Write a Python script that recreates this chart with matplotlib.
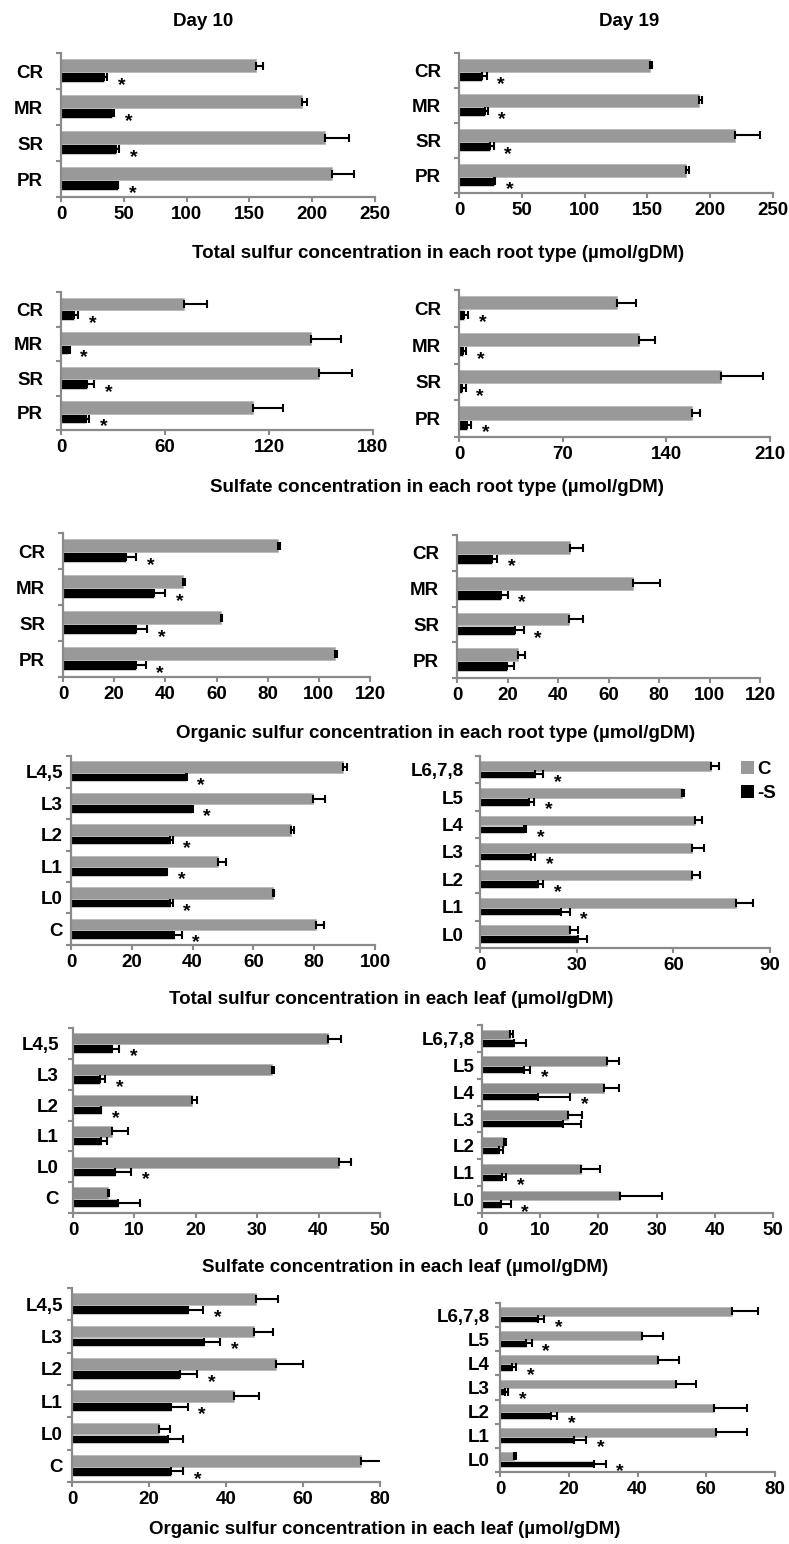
import numpy as np
import matplotlib.pyplot as plt
from matplotlib.patches import Patch

plt.rcParams['font.family'] = ['Liberation Sans', 'DejaVu Sans']
plt.rcParams['font.weight'] = 'bold'

W, H = 789, 1544
GRAY = '#999999'
GRAY_DARK = '#8c8c8c'
AXIS = '#8a8a8a'
FS = 13.5

roots = ['CR', 'MR', 'SR', 'PR']
leaf_d10 = ['L4,5', 'L3', 'L2', 'L1', 'L0', 'C']
leaf_d19 = ['L6,7,8', 'L5', 'L4', 'L3', 'L2', 'L1', 'L0']

# total sulfur, roots
ts_root_d10_c = [155, 191.5, 210, 216]
ts_root_d10_c_err = [5.5, 4, 19, 17]
ts_root_d10_s = [34.5, 41, 44, 45]
ts_root_d10_s_err = [2, 1, 2, 0.5]
ts_root_d10_sig = [1, 1, 1, 1]

ts_root_d19_c = [152, 191, 219.5, 181]
ts_root_d19_c_err = [2, 2.5, 20, 2]
ts_root_d19_s = [18, 20.7, 25, 27.5]
ts_root_d19_s_err = [4, 2, 2.5, 1.5]
ts_root_d19_sig = [1, 1, 1, 1]

# sulfate, roots
so4_root_d10_c = [71, 144, 149, 110.7]
so4_root_d10_c_err = [13.5, 17.5, 18.7, 17.3]
so4_root_d10_s = [7.5, 4.2, 15.2, 14.4]
so4_root_d10_s_err = [2.5, 0.8, 3.8, 2]
so4_root_d10_sig = [1, 1, 1, 1]

so4_root_d19_c = [106.5, 121.8, 176.7, 157.5]
so4_root_d19_c_err = [12.8, 10.5, 28.8, 5.2]
so4_root_d19_s = [3.5, 2.5, 2, 5.2]
so4_root_d19_s_err = [2.5, 2.5, 2.5, 2.7]
so4_root_d19_sig = [1, 1, 1, 1]

# organic sulfur, roots
org_root_d10_c = [83.9, 47, 61.7, 106.3]
org_root_d10_c_err = [0.9, 0.7, 0.6, 0.7]
org_root_d10_s = [24.5, 35.6, 28.7, 28.7]
org_root_d10_s_err = [4.2, 4.2, 4.2, 3.6]
org_root_d10_sig = [1, 1, 1, 1]

org_root_d19_c = [44.8, 69.9, 44.2, 24.1]
org_root_d19_c_err = [5, 10.3, 5.6, 2.9]
org_root_d19_s = [13.8, 17.4, 22.8, 19.8]
org_root_d19_s_err = [2, 2.6, 3.6, 2.9]
org_root_d19_sig = [1, 1, 1, 0]

# total sulfur, leaves
ts_leaf_d10_c = [89.6, 79.7, 72.4, 48.5, 66.3, 80.6]
ts_leaf_d10_c_err = [1.3, 3.8, 0.8, 2.5, 0.6, 2.7]
ts_leaf_d10_s = [37.7, 39.7, 32.6, 31.3, 32.6, 33.9]
ts_leaf_d10_s_err = [0.3, 0.3, 0.8, 0.3, 0.8, 2.5]
ts_leaf_d10_sig = [1, 1, 1, 1, 1, 1]

ts_leaf_d19_c = [71.8, 62.6, 66.6, 65.8, 65.8, 79.6, 27.9]
ts_leaf_d19_c_err = [2.4, 0.6, 2.3, 3.6, 2.6, 5, 2.6]
ts_leaf_d19_s = [17.2, 15.3, 13.5, 15.8, 17.9, 25, 30.5]
ts_leaf_d19_s_err = [2.3, 1.6, 0.8, 1.4, 1.6, 2.8, 2.8]
ts_leaf_d19_sig = [1, 1, 1, 1, 1, 1, 0]

# sulfate, leaves
so4_leaf_d10_c = [41.6, 32.4, 19.3, 6.3, 43.4, 5.7]
so4_leaf_d10_c_err = [2.1, 0.3, 0.9, 2.6, 1.8, 0.2]
so4_leaf_d10_s = [6.4, 4.4, 4.5, 4.5, 6.9, 7.4]
so4_leaf_d10_s_err = [1.1, 0.8, 0.1, 1, 2.6, 3.5]
so4_leaf_d10_sig = [1, 1, 1, 0, 1, 0]

so4_leaf_d19_c = [4.8, 21.5, 20.9, 14.7, 3.8, 17, 23.7]
so4_leaf_d19_c_err = [0.6, 2, 2.6, 2.5, 0.4, 3.3, 7.2]
so4_leaf_d19_s = [5.5, 7.3, 9.7, 13.9, 2.9, 3.5, 3.2]
so4_leaf_d19_s_err = [2, 1, 5.5, 3.1, 0.7, 0.7, 1.7]
so4_leaf_d19_sig = [0, 1, 1, 0, 0, 1, 1]

# organic sulfur, leaves
org_leaf_d10_c = [47.8, 47.4, 52.9, 42.2, 22.6, 75]
org_leaf_d10_c_err = [5.7, 4.8, 7, 6.3, 2.8, 6]
org_leaf_d10_s = [30, 34.3, 28.1, 25.8, 25, 25.8]
org_leaf_d10_s_err = [4.1, 4.2, 4.3, 4.2, 3.8, 3.1]
org_leaf_d10_sig = [1, 1, 1, 1, 0, 1]

org_leaf_d19_c = [67.4, 41.4, 46.1, 51.3, 62.3, 62.8, 4.2]
org_leaf_d19_c_err = [7.7, 6, 6.1, 5.6, 9.5, 9, 0.4]
org_leaf_d19_s = [11.1, 7.6, 3.6, 1.5, 14.7, 21.6, 27.2]
org_leaf_d19_s_err = [1.7, 1.6, 1, 0.8, 2, 3.4, 3.5]
org_leaf_d19_sig = [1, 1, 1, 1, 1, 1, 1]

fig = plt.figure(figsize=(W / 100, H / 100), dpi=100)


def panel(box, cats, c, ce, s, se, sig, xmax, step, lab_pad, gray=GRAY):
    l, t, r, b = box
    ax = fig.add_axes([l / W, 1 - b / H, (r - l) / W, (b - t) / H])
    n = len(cats)
    y = np.arange(n)[::-1]
    yc = y + 0.15
    ys = y - 0.17
    ax.barh(yc, c, height=0.36, color=gray, edgecolor='#b0b0b0', linewidth=0.4, zorder=2)
    ax.barh(ys, s, height=0.27, color='black', edgecolor='white', linewidth=0.4, zorder=2)
    ax.errorbar(c, yc, xerr=[np.zeros(n), ce], fmt='none', ecolor='black',
                elinewidth=1.5, capsize=3.2, capthick=1.5, zorder=3)
    ax.errorbar(s, ys, xerr=[np.zeros(n), se], fmt='none', ecolor='black',
                elinewidth=1.5, capsize=3.2, capthick=1.5, zorder=3)
    for i in range(n):
        if sig[i]:
            ax.annotate('*', xy=(s[i] + se[i], ys[i]), xytext=(10.5, -9),
                        textcoords='offset points', ha='center', va='baseline',
                        fontsize=14, fontweight='bold')
    ax.set_xlim(0, xmax)
    ax.set_ylim(-0.5, n - 0.5)
    ax.set_xticks(np.arange(0, xmax + step / 2, step))
    ax.set_yticks(y)
    ax.set_yticklabels(cats)
    ax.set_yticks(np.arange(n + 1) - 0.5, minor=True)
    ax.tick_params(axis='y', which='major', length=0, pad=lab_pad * 0.72, labelsize=FS)
    ax.tick_params(axis='y', which='minor', length=3.5, width=1.5, color=AXIS, direction='out')
    ax.tick_params(axis='x', length=3.5, width=1.5, color=AXIS, direction='out', pad=3, labelsize=FS)
    for sp in ['top', 'right']:
        ax.spines[sp].set_visible(False)
    for sp in ['left', 'bottom']:
        ax.spines[sp].set_color(AXIS)
        ax.spines[sp].set_linewidth(1.6)
    return ax


panel((61, 53, 375, 197), roots, ts_root_d10_c, ts_root_d10_c_err, ts_root_d10_s,
      ts_root_d10_s_err, ts_root_d10_sig, 250, 50, 18)
panel((459, 53, 773, 193), roots, ts_root_d19_c, ts_root_d19_c_err, ts_root_d19_s,
      ts_root_d19_s_err, ts_root_d19_sig, 250, 50, 18)
panel((61, 292, 373, 430), roots, so4_root_d10_c, so4_root_d10_c_err, so4_root_d10_s,
      so4_root_d10_s_err, so4_root_d10_sig, 180, 60, 18)
panel((459, 290, 770, 437), roots, so4_root_d19_c, so4_root_d19_c_err, so4_root_d19_s,
      so4_root_d19_s_err, so4_root_d19_sig, 210, 70, 18)
panel((63, 533, 370, 677), roots, org_root_d10_c, org_root_d10_c_err, org_root_d10_s,
      org_root_d10_s_err, org_root_d10_sig, 120, 20, 18)
panel((457, 535, 760, 678), roots, org_root_d19_c, org_root_d19_c_err, org_root_d19_s,
      org_root_d19_s_err, org_root_d19_sig, 120, 20, 18)
panel((71, 756, 375, 945), leaf_d10, ts_leaf_d10_c, ts_leaf_d10_c_err, ts_leaf_d10_s,
      ts_leaf_d10_s_err, ts_leaf_d10_sig, 100, 20, 8)
panel((480, 756, 770, 948), leaf_d19, ts_leaf_d19_c, ts_leaf_d19_c_err, ts_leaf_d19_s,
      ts_leaf_d19_s_err, ts_leaf_d19_sig, 90, 30, 16)
panel((73, 1028, 380, 1213), leaf_d10, so4_leaf_d10_c, so4_leaf_d10_c_err, so4_leaf_d10_s,
      so4_leaf_d10_s_err, so4_leaf_d10_sig, 50, 10, 14, gray=GRAY_DARK)
panel((482, 1025, 773, 1213), leaf_d19, so4_leaf_d19_c, so4_leaf_d19_c_err, so4_leaf_d19_s,
      so4_leaf_d19_s_err, so4_leaf_d19_sig, 50, 10, 7, gray=GRAY_DARK)
panel((72, 1288, 380, 1482), leaf_d10, org_leaf_d10_c, org_leaf_d10_c_err, org_leaf_d10_s,
      org_leaf_d10_s_err, org_leaf_d10_sig, 80, 20, 9)
panel((500, 1303, 775, 1472), leaf_d19, org_leaf_d19_c, org_leaf_d19_c_err, org_leaf_d19_s,
      org_leaf_d19_s_err, org_leaf_d19_sig, 80, 20, 10)

# column titles and row captions
fig.text(203 / W, 1 - 22 / H, 'Day 10', ha='center', va='center', fontsize=FS)
fig.text(629 / W, 1 - 22 / H, 'Day 19', ha='center', va='center', fontsize=FS)

captions = [
    (438, 253, 'Total sulfur concentration in each root type (µmol/gDM)'),
    (437, 488, 'Sulfate concentration in each root type (µmol/gDM)'),
    (436, 733, 'Organic sulfur concentration in each root type (µmol/gDM)'),
    (391, 1000, 'Total sulfur concentration in each leaf (µmol/gDM)'),
    (405, 1267, 'Sulfate concentration in each leaf (µmol/gDM)'),
    (385, 1530, 'Organic sulfur concentration in each leaf (µmol/gDM)'),
]
for x, y, txt in captions:
    fig.text(x / W, 1 - y / H, txt, ha='center', va='center', fontsize=13.5)

handles = [Patch(facecolor=GRAY, label='C'), Patch(facecolor='black', label='-S')]
fig.legend(handles=handles, loc='upper left', bbox_to_anchor=(741 / W, 1 - 761 / H),
           frameon=False, fontsize=FS, handlelength=0.7, handleheight=0.7,
           handletextpad=0.15, labelspacing=0.35, borderpad=0, borderaxespad=0)

fig.savefig('out.png', dpi=100)
